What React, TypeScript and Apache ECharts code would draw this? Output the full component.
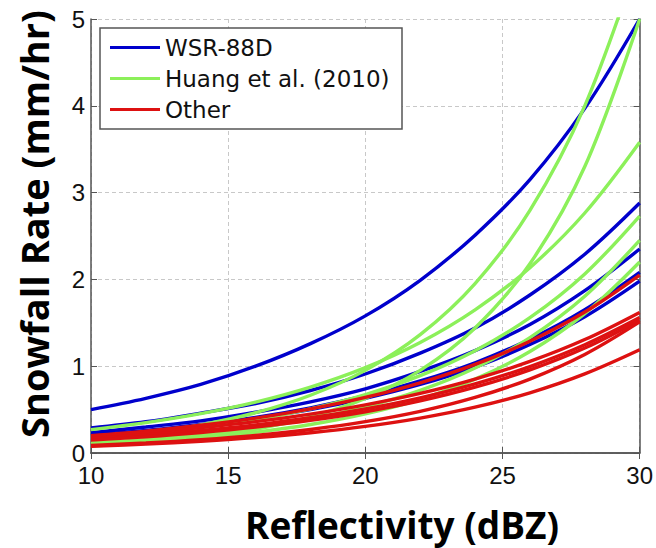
import React, { useEffect, useRef } from "react";
import * as echarts from "echarts";

const dbz = [10, 12, 14, 16, 18, 20, 22, 24, 26, 28, 30];

const wsr1 = [0.5, 0.63, 0.79, 1.0, 1.26, 1.58, 1.99, 2.51, 3.15, 3.97, 5.0];
const wsr2 = [0.29, 0.36, 0.46, 0.57, 0.72, 0.91, 1.15, 1.44, 1.82, 2.29, 2.88];
const wsr3 = [0.235, 0.3, 0.37, 0.47, 0.59, 0.74, 0.94, 1.18, 1.48, 1.87, 2.35];
const wsr4 = [0.21, 0.26, 0.33, 0.41, 0.52, 0.66, 0.83, 1.04, 1.31, 1.65, 2.08];
const wsr5 = [0.2, 0.25, 0.31, 0.4, 0.5, 0.63, 0.79, 0.99, 1.25, 1.57, 1.98];

const huang1 = [0.158, 0.226, 0.324, 0.464, 0.665, 0.952, 1.363, 1.952, 2.795, 4.0, 5.73];
const huang2 = [0.079, 0.12, 0.181, 0.274, 0.415, 0.629, 0.952, 1.441, 2.18, 3.3, 5.0];
const huang3 = [0.27, 0.35, 0.453, 0.586, 0.759, 0.983, 1.273, 1.649, 2.135, 2.765, 3.58];
const huang4 = [0.166, 0.22, 0.291, 0.385, 0.509, 0.673, 0.891, 1.178, 1.559, 2.063, 2.73];
const huang5 = [0.115, 0.156, 0.212, 0.288, 0.391, 0.531, 0.721, 0.979, 1.33, 1.806, 2.45];
const huang6 = [0.092, 0.126, 0.174, 0.239, 0.328, 0.451, 0.619, 0.851, 1.169, 1.606, 2.2];

const other1 = [0.2, 0.252, 0.319, 0.402, 0.508, 0.64, 0.808, 1.02, 1.287, 1.624, 2.05];
const other2 = [0.19, 0.235, 0.292, 0.361, 0.448, 0.555, 0.687, 0.852, 1.055, 1.307, 1.62];
const other3 = [0.165, 0.207, 0.259, 0.324, 0.406, 0.508, 0.636, 0.796, 0.996, 1.247, 1.56];
const other4 = [0.148, 0.187, 0.236, 0.298, 0.376, 0.475, 0.6, 0.758, 0.957, 1.209, 1.53];
const other5 = [0.086, 0.115, 0.153, 0.203, 0.271, 0.361, 0.48, 0.64, 0.852, 1.135, 1.51];
const other6 = [0.078, 0.102, 0.135, 0.177, 0.233, 0.306, 0.402, 0.528, 0.694, 0.912, 1.19];

const groupNames = ["WSR-88D", "Huang et al. (2010)", "Other"];
const groupColors = ["#0000cc", "#8cf05a", "#dd1111"];
const wsrCurves = [wsr1, wsr2, wsr3, wsr4, wsr5];
const huangCurves = [huang1, huang2, huang3, huang4, huang5, huang6];
const otherCurves = [other1, other2, other3, other4, other5, other6];

const xTitle = "Reflectivity (dBZ)";
const yTitle = "Snowfall Rate (mm/hr)";

function makeSeries(curves: number[][], gi: number) {
  return curves.map((c) => ({
    type: "line",
    name: groupNames[gi],
    data: c.map((v, i) => [dbz[i], v]),
    showSymbol: false,
    smooth: 0.35,
    lineStyle: { color: groupColors[gi], width: 3.4 },
    itemStyle: { color: groupColors[gi] },
    z: 2 + gi,
  }));
}

export default function App() {
  const ref = useRef<HTMLDivElement>(null);
  useEffect(() => {
    if (!ref.current) return;
    const chart = echarts.init(ref.current, null, { renderer: "svg" });
    const axisLine = { show: true, lineStyle: { color: "#555", width: 1.5 } };
    const axisTick = { show: true, inside: true, length: 6, lineStyle: { color: "#555", width: 1 } };
    const splitLine = { show: true, lineStyle: { color: "#c8c8c8", type: [4, 3], width: 1 } };
    const labelStyle = { fontFamily: "Liberation Sans, Arial", fontSize: 24, lineHeight: 23, color: "#111" };
    chart.setOption({
      animation: false,
      backgroundColor: "#ffffff",
      grid: { left: 91, top: 19, right: 15, bottom: 95, show: false },
      xAxis: [
        {
          type: "value", min: 10, max: 30, interval: 5, position: "bottom",
          axisLine, axisTick, splitLine,
          axisLabel: { ...labelStyle, margin: 11 },
        },
        {
          type: "value", min: 10, max: 30, interval: 5, position: "top",
          axisLine, axisTick, splitLine: { show: false },
          axisLabel: { show: false },
        },
      ],
      yAxis: [
        {
          type: "value", min: 0, max: 5, interval: 1, position: "left",
          axisLine, axisTick, splitLine,
          axisLabel: { ...labelStyle, margin: 6 },
        },
        {
          type: "value", min: 0, max: 5, interval: 1, position: "right",
          axisLine, axisTick, splitLine: { show: false },
          axisLabel: { show: false },
        },
      ],
      legend: {
        orient: "vertical",
        left: 110,
        top: 36,
        padding: 0,
        itemWidth: 50,
        itemHeight: 3,
        itemGap: 8,
        icon: "rect",
        selectedMode: false,
        data: groupNames,
        textStyle: { fontFamily: "DejaVu Sans", fontSize: 23, lineHeight: 23, color: "#111" },
        z: 5,
      },
      graphic: [
        {
          type: "rect",
          z: 4,
          shape: { x: 100, y: 28, width: 302, height: 101 },
          style: { fill: "#ffffff", stroke: "#555", lineWidth: 1.5 },
        },
        {
          type: "text",
          x: 402,
          y: 524,
          style: {
            text: xTitle,
            font: "bold 37px 'Open Sans'",
            fill: "#000",
            textAlign: "center",
            textVerticalAlign: "middle",
          },
        },
        {
          type: "text",
          x: 34,
          y: 224,
          rotation: Math.PI / 2,
          style: {
            text: yTitle,
            font: "bold 38px 'Open Sans'",
            fill: "#000",
            textAlign: "center",
            textVerticalAlign: "middle",
          },
        },
      ],
      series: [
        ...makeSeries(huangCurves, 1),
        ...makeSeries(wsrCurves, 0),
        ...makeSeries(otherCurves, 2),
      ],
    });
    return () => chart.dispose();
  }, []);
  return (
    <div
      ref={ref}
      style={{ position: "fixed", left: 0, top: 0, width: 656, height: 548 }}
    />
  );
}
